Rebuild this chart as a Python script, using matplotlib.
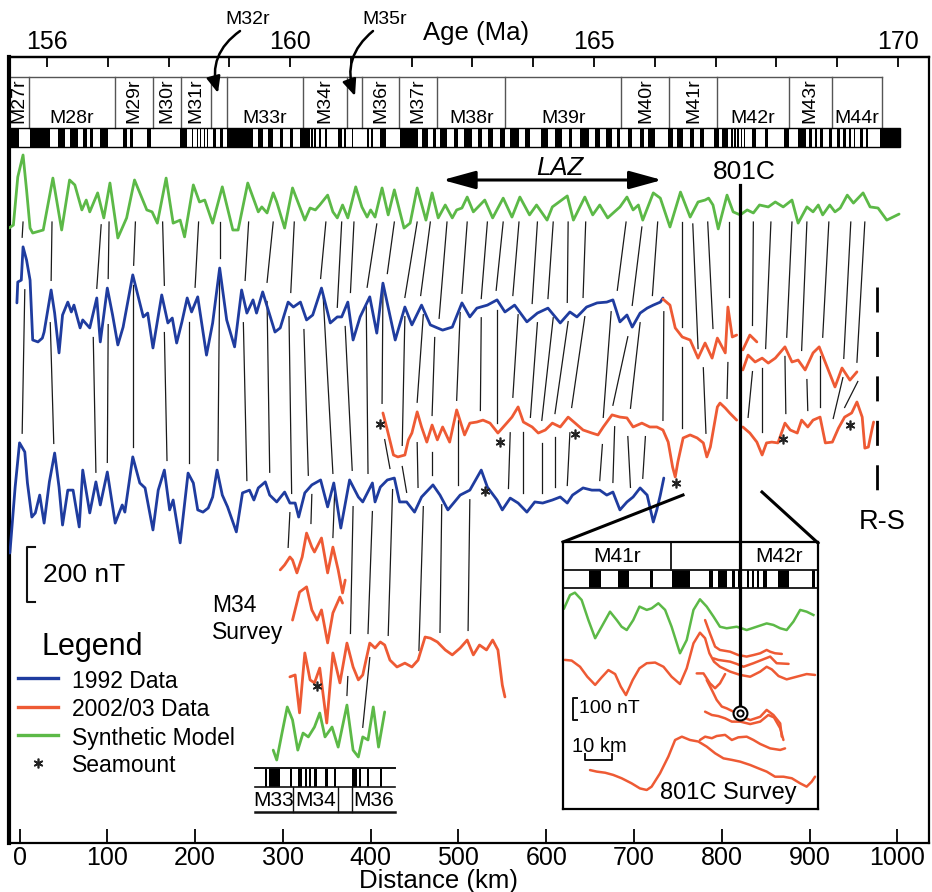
import numpy as np
import matplotlib
matplotlib.use("Agg")
import matplotlib.pyplot as plt
from matplotlib import font_manager
from matplotlib.patches import Rectangle, FancyArrowPatch

plt.rcParams['font.family'] = ['Liberation Sans', 'DejaVu Sans']

BLUE = '#1f3c9f'
RED = '#ee5a34'
GREEN = '#5cb947'
INK = '#111111'

# --- magnetic profiles: (distance km, anomaly nT) ---
synthetic = [(-12,-84),(-7,-73),(-2,102),(4,182),(8,55),(12,-84),(15,-102),(27,-91),(38,98),(48,-91),
             (57,91),(63,73),(71,-18),(76,18),(80,-25),(89,44),(96,-47),(103,80),(112,-120),(122,-47),
             (131,91),(145,-18),(151,-25),(157,-66),(167,98),(175,-66),(183,-55),(188,-116),(198,73),(205,11),
             (211,18),(220,-66),(231,66),(243,-91),(249,-91),(260,80),(272,-25),(276,-7),(282,-29),(289,44),
             (293,11),(302,-84),(311,62),(325,-55),(331,-11),(337,-18),(342,0),(351,36),(357,-25),(362,-47),
             (368,0),(374,-47),(383,66),(390,-7),(396,-44),(400,-18),(405,-44),(413,62),(420,-36),(427,55),
             (438,-84),(445,-66),(453,62),(463,-55),(470,44),(477,-47),(485,0),(493,-47),(498,-18),(504,-11),
             (510,29),(517,-25),(530,18),(539,-47),(551,25),(561,-44),(570,29),(581,-36),(589,0),(601,-55),
             (607,-7),(624,33),(631,-55),(644,29),(653,-36),(661,0),(670,-47),(684,-7),(692,29),(699,-18),
             (705,0),(710,-55),(722,44),(730,25),(741,-80),(753,47),(764,-44),(773,11),(781,18),(785,25),
             (790,0),(796,-87),(806,36),(813,-25),(821,-36),(829,-18),(836,-29),(843,0),(853,-7),(861,11),
             (870,-7),(880,18),(887,-66),(897,-7),(904,-25),(910,0),(915,-36),(923,0),(929,-25),(935,-11),
             (943,36),(950,7),(961,44),(969,-7),(978,-11),(988,-55),(995,-44),(1002,-33)]

upper_1992 = [(-3,44),(-2,120),(2,127),(4,248),(8,200),(12,127),(15,-91),(21,-98),(26,-84),(28,-62),
              (36,91),(40,7),(45,-138),(49,0),(55,47),(59,11),(62,36),(65,0),(69,-47),(72,-18),
              (80,-47),(88,62),(92,-98),(100,98),(106,0),(112,-109),(118,-44),(129,146),(141,-7),(146,7),
              (152,-120),(162,73),(169,-29),(174,-11),(179,-102),(185,-25),(191,62),(196,11),(203,66),(213,-146),
              (220,-29),(228,171),(236,-18),(245,-116),(253,91),(259,7),(266,55),(270,7),(277,84),(291,-62),
              (297,-47),(306,47),(312,29),(320,47),(327,-18),(334,0),(344,98),(354,-29),(362,-7),(367,-7),
              (374,47),(380,-91),(388,-7),(399,66),(407,-66),(414,116),(428,-91),(439,29),(447,-36),(458,36),
              (468,-36),(476,-47),(482,-55),(493,-44),(504,44),(513,-7),(521,25),(533,36),(544,55),(553,11),
              (564,36),(578,-25),(590,7),(602,25),(616,-29),(627,11),(635,-7),(646,29),(658,44),(669,47),
              (676,55),(684,-25),(692,0),(698,-44),(707,7),(715,25),(722,36),(730,47),(733,62)]
upper_0203 = [(733,58),(741,36),(747,-47),(755,-80),(764,-91),(773,-157),(781,-102),(789,-157),(795,-84),
              (804,-138),(807,29),(812,-80),(817,-73)]
upper_0203_short = [(824,-127),(832,-73),(840,-98)]
upper_0203_east = [(824,-200),(830,-146),(838,-171),(846,-157),(853,-175),(861,-157),(872,-116),(880,-171),
                   (887,-164),(895,-200),(904,-138),(911,-116),(920,-189),(929,-262),(937,-193),(946,-237),(954,-207)]

middle_0203 = [(414,62),(419,0),(426,-91),(431,-98),(439,-91),(443,-36),(447,-11),(453,66),(458,11),(464,-44),
               (470,18),(476,-36),(482,11),(490,-44),(498,73),(507,-18),(513,25),(521,29),(528,36),(536,25),
               (545,-11),(555,25),(561,47),(568,84),(574,29),(584,11),(591,-11),(599,0),(607,25),(616,11),
               (625,47),(633,25),(642,0),(652,-11),(659,-18),(665,11),(675,55),(684,47),(692,44),(699,11),
               (709,25),(718,11),(726,11),(733,0),(739,-44),(744,-135),(747,-171),(750,-116),(756,-29),(764,-18),
               (772,-29),(779,-47),(783,-98),(787,-62),(795,84),(798,98),(804,80),(809,62),(817,36)]
middle_0203_east = [(824,11),(832,-11),(840,-44),(846,-91),(851,-47),(857,-44),(864,-47),(872,25),(878,0),
                    (886,-11),(891,36),(898,11),(904,36),(912,47),(918,-47),(926,-44),(933,7),(940,47),
                    (948,62),(954,102),(960,47),(963,-66),(967,-62),(971,0),(973,29)]

lower_1992 = [(-11,-204),(-5,36),(0,197),(6,164),(9,51),(14,-73),(18,-58),(23,7),(28,-95),(34,55),
              (40,160),(45,36),(49,-102),(55,25),(61,25),(68,-109),(72,98),(80,-58),(87,55),(92,-29),
              (100,91),(109,-95),(117,-29),(120,-55),(129,146),(137,51),(143,33),(152,-120),(158,25),(165,98),
              (171,-47),(175,-11),(183,-167),(192,87),(198,51),(203,-47),(209,-55),(215,-40),(220,0),(225,98),
              (231,7),(237,-36),(247,-127),(254,15),(262,25),(267,-11),(272,33),(280,55),(285,7),(293,-18),
              (302,18),(308,-22),(314,-22),(318,-73),(325,15),(333,44),(343,62),(351,-36),(358,51),(366,-113),
              (376,62),(386,0),(391,-18),(402,51),(405,-18),(411,36),(419,62),(427,69),(433,-18),(441,-18),
              (450,-55),(458,0),(471,44),(479,7),(488,-47),(502,7),(513,25),(526,98),(533,36),(544,-11),
              (550,-47),(559,-4),(568,-22),(578,-55),(587,-18),(596,-22),(607,-11),(616,0),(624,-22),(630,7),
              (642,33),(652,25),(661,25),(669,7),(676,18),(684,-47),(692,-18),(699,0),(707,33),(715,7),
              (722,-91),(726,-47),(730,7),(734,69)]

m34_line_a = [(297,-36),(302,-18),(308,11),(311,0),(316,-47),(322,11),(327,98),(333,47),(336,29),(344,80),
              (351,-47),(357,47),(363,-36),(368,-120),(371,-73)]
m34_line_b = [(311,-55),(319,47),(327,66),(333,-18),(339,-55),(344,-18),(351,-138),(357,-29),(365,29),(368,7)]
m34_line_c = [(308,-25),(314,-18),(319,-156),(325,62),(331,-36),(336,-47),(342,7),(350,-193),(357,62),(365,-47),
              (373,98),(380,11),(386,-36),(391,-18),(399,98),(405,80),(411,102),(416,91),(422,36),(430,11),
              (439,25),(447,11),(454,36),(462,120),(468,116),(476,102),(485,73),(493,55),(502,80),(510,109),
              (517,55),(524,91),(532,73),(539,109),(545,73),(550,-55),(553,-98)]
m34_synthetic = [(289,-55),(293,-91),(299,7),(305,102),(311,55),(317,-55),(323,7),(329,-7),(336,29),(342,80),
                 (348,-7),(356,29),(363,-44),(373,109),(380,-55),(386,-80),(391,-7),(397,-18),(403,102),(409,-44),(416,84)]

# seamounts: (km, profile)
seamounts = [(411, 'mid'), (547, 'mid'), (633, 'mid'), (870, 'mid'), (946, 'mid'),
             (530, 'low'), (748, 'mid'), (339, 'm34c')]

# correlation ties (km on upper profile, km on lower profile)
ties_syn_upper = [(4,3),(37,36),(93,88),(102,101),(132,130),(163,165),(204,200),(228,228),(261,257),(289,282),
                  (313,309),(349,343),(367,362),(381,377),(407,396),(427,419),(453,439),(468,457),(487,478),
                  (510,504),(533,526),(551,543),(569,562),(590,584),(608,602),(625,624),(645,642),(691,681),
                  (709,698),(727,721),(755,755),(767,773),(784,790),(808,808),(836,835),(856,850),(880,874),
                  (897,891),(922,915),(947,939),(963,954)]
ties_upper_lower = [(6,3),(35,39),(84,87),(101,100),(129,129),(165,168),(193,193),(228,226),(255,259),(282,285),
                    (307,310),(324,329),(346,357),(371,379),(395,397),(414,413),(439,436),(460,453),(473,470),
                    (502,498),(526,525),(544,544),(568,562),(590,582),(608,595),(625,610),(644,629),(674,665),
                    (693,676),(707,696),(734,733),(755,755),(779,782),(807,806),(835,830),(846,846),(872,873),
                    (897,898),(912,912),(938,927),(955,940)]
ties_middle_lower = [(416,422),(436,441),(453,454),(470,470),(500,500),(559,557),(574,574),(595,595),
                     (610,610),(627,624),(664,661),(678,676),(693,696),(713,710)]
ties_lower_m34 = [(308,306),(333,332),(359,357),(380,377),(402,397),(425,420),(460,455),(481,479),(513,511)]
ties_m34_syn = [(374,373),(399,391)]

# geomagnetic timescale (Ma)
chron_names = ['M27r','M28r','M29r','M30r','M31r','M32r','M33r','M34r','M35r','M36r','M37r',
               'M38r','M39r','M40r','M41r','M42r','M43r','M44r']
chron_bounds_ma = [155.37,155.70,157.12,157.74,158.21,158.70,158.96,160.21,160.94,161.19,161.79,
                   162.42,163.54,165.45,166.24,167.03,168.20,168.91,169.74]
polarity_black_ma = [(155.39,155.54),(155.72,156.05),(156.18,156.30),(156.38,156.51),(156.59,156.66),(156.71,156.76),
                     (156.87,157.00),(157.25,157.32),(157.37,157.42),(157.65,157.71),(158.19,158.30),(158.39,158.41),
                     (158.47,158.49),(158.52,158.54),(158.58,158.60),(158.63,158.65),(158.73,158.78),(158.85,158.90),
                     (158.96,159.39),(159.47,159.56),(159.64,159.72),(159.84,159.88),(160.00,160.05),(160.16,160.33),
                     (160.35,160.37),(160.40,160.43),(160.48,160.51),(160.58,160.61),(160.79,160.86),(160.89,160.92),
                     (161.02,161.04),(161.27,161.30),(161.33,161.37),(161.48,161.58),(161.81,162.11),(162.17,162.27),
                     (162.35,162.40),(162.47,162.58),(162.70,162.77),(162.86,163.00),(163.09,163.16),(163.26,163.33),
                     (163.46,163.54),(163.62,163.77),(163.87,163.95),(164.12,164.25),(164.36,164.48),(164.58,164.64),
                     (164.77,164.91),(165.02,165.10),(165.19,165.30),(165.38,165.43),(165.56,165.63),(165.76,165.83),
                     (165.89,166.01),(166.22,166.30),(166.37,166.47),(166.58,166.65),(166.75,166.81),(166.98,167.05),
                     (167.11,167.21),(167.26,167.28),(167.31,167.33),(167.36,167.38),(167.41,167.43),(167.46,167.48),
                     (167.60,167.67),(167.81,167.87),(168.12,168.20),(168.36,168.48),(168.53,168.59),(168.64,168.67),
                     (168.72,168.77),(168.86,168.92),(169.00,169.05),(169.10,169.14),(169.19,169.22),(169.27,169.30),
                     (169.38,169.42),(169.48,169.50),(169.71,170.04)]
polarity_end_ma = 170.04

# M34 survey block model (km)
m34_black_km = [(280,282),(284,297),(308,310),(317,322),(325,327),(330,332),(336,339),(348,351),(358,360),
                (379,384),(387,389),(396,398),(411,413)]
m34_chron_km = [268, 312, 363, 379, 428]
m34_chron_names = ['M33', 'M34', '', 'M36']

# 801C survey inset: (km along inset, nT)
inset_synthetic = [(0.4,907),(2.6,967),(4.4,978),(6.9,945),(9.4,854),(11.9,772),(14.3,824),(17.4,892),(19.9,854),
                   (21.7,824),(23.6,809),(26.0,854),(28.3,915),(31.0,900),(32.8,907),(35.3,930),(37.8,900),(40.2,824),
                   (43.3,704),(45.8,764),(48.3,900),(50.7,948),(53.2,915),(55.7,870),(58.1,824),(60.6,817),(64.3,824),
                   (68.0,809),(71.7,824),(75.4,839),(77.9,832),(80.4,817),(82.8,809),(85.3,847),(87.8,900),(90.2,892),(92.7,877)]
inset_lines = [
    [(0.7,674),(3.2,671),(6.3,643),(9.0,598),(11.9,561),(14.3,595),(16.8,628),(19.3,610),(21.4,553),(23.3,515),
     (25.8,583),(28.3,636),(31.0,659),(34.1,662),(37.2,643),(40.2,598),(43.3,565),(45.8,636),(48.3,749),(50.7,797),
     (52.6,772),(54.2,704),(55.9,666),(58.1,643),(61.9,621),(65.6,606),(69.3,598),(73.0,621),(75.4,643),(77.3,631),
     (79.8,601),(82.8,586),(86.5,598),(90.2,610),(93.3,606)],
    [(52.6,854),(54.4,794),(56.3,734),(58.1,719),(61.9,711),(64.9,696),(68.0,689),(70.5,696),(73.0,704),(75.4,719),
     (76.7,711),(78.5,704),(81.0,701)],
    [(55.7,681),(57.5,674),(61.9,666),(64.3,656),(66.8,643),(70.5,659),(74.2,677),(76.7,689),(79.1,659),(83.5,656)],
    [(49.5,613),(52.0,613),(54.4,568),(56.3,546),(58.1,568),(60.0,610)],
    [(53.2,583),(55.1,538),(56.9,493),(58.8,463),(60.6,455),(63.1,440),(66.2,417),(69.3,402),(73.0,417),(75.4,448),
     (77.9,425),(80.4,387),(81.0,327)],
    [(52.6,440),(55.1,425),(57.5,420),(60.0,410),(62.5,395),(65.6,395),(69.3,384),(73.0,395),(76.0,425),(78.1,414),
     (80.4,365),(81.6,312)],
    [(50.7,312),(52.6,327),(55.1,320),(56.9,330),(60.0,335),(62.5,312),(64.9,324),(68.0,327),(70.5,312),(73.0,294),
     (76.7,274),(80.4,267),(82.2,274)],
    [(10.0,176),(12.5,169),(15.6,164),(18.6,154),(21.7,139),(25.4,116),(28.5,93),(31.0,86),(32.8,101),(35.9,161),
     (39.0,237),(41.5,312),(44.0,327),(47.0,312),(50.1,305),(53.2,282),(56.3,252),(59.4,229),(62.5,222),(65.6,214),
     (69.3,199),(72.3,184),(75.4,169),(78.5,146),(81.6,146),(84.7,139),(87.8,116),(90.2,101),(92.1,124),(93.3,146)],
]
inset_black_km = [(9.6,14.1),(20.4,24.4),(32.2,33.3),(40.4,47.0),(54.1,55.6),(57.4,60.7),(62.6,63.7),(64.8,66.3),
                  (68.1,68.9),(69.9,70.7),(71.9,72.6),(74.1,75.6),(79.6,83.7),(92.2,93.3)]
inset_chron_km = [0, 40.0, 65.6, 94.4]
inset_chron_names = ['M41r', '', 'M42r']
inset_site_km, inset_site_nt = 65.6, 434

SITE_801C_KM = 821
LAZ_KM = (482, 732)
RS_KM = 977


def km_to_ma(km):
    return 156.0 + (np.asarray(km, float) - 31.25) / 69.25


def ma_to_km(ma):
    return 31.25 + (np.asarray(ma, float) - 156.0) * 69.25


def arr(pairs):
    return np.array(pairs, dtype=float)


def stack(*pieces):
    a = np.concatenate([arr(p) for p in pieces])
    return a[np.argsort(a[:, 0], kind='stable')]


def envelope(trace, x, fn, half=6):
    sel = np.abs(trace[:, 0] - x) <= half
    if sel.any():
        return fn(trace[sel, 1])
    return np.interp(x, trace[:, 0], trace[:, 1])


W, H = 932, 892
NT_PER_PX = 3.64


def box(x0, y0, x1, y1):
    return [x0 / W, 1 - y1 / H, (x1 - x0) / W, (y1 - y0) / H]


def ny(py):
    # vertical page position -> stacked nT of the main panel
    return (843 - py) * NT_PER_PX


names = {f.name for f in font_manager.fontManager.ttflist}
NARROW = 'Liberation Sans Narrow' if 'Liberation Sans Narrow' in names else 'Liberation Sans'

fig = plt.figure(figsize=(W / 100, H / 100), dpi=100)
ax = fig.add_axes(box(9, 57, 929, 843))
ax.set_xlim(-12.0, 1036.1)
ax.set_ylim(0, 786 * NT_PER_PX)

OFFSET = {'syn': ny(205), 'up': ny(315), 'mid': ny(430), 'low': ny(497),
          'm34a': ny(560), 'm34b': ny(605), 'm34c': ny(670), 'm34syn': ny(735)}

syn = arr(synthetic)
up_all = stack(upper_1992, upper_0203, upper_0203_short, upper_0203_east)
mid_all = stack(middle_0203, middle_0203_east)
low = arr(lower_1992)
m34a, m34b, m34c, m34s = arr(m34_line_a), arr(m34_line_b), arr(m34_line_c), arr(m34_synthetic)
traces = {'syn': syn, 'up': up_all, 'mid': mid_all, 'low': low, 'm34a': m34a, 'm34c': m34c, 'm34syn': m34s}

LW = 2.0
def draw(pairs, key, color):
    a = arr(pairs)
    ax.plot(a[:, 0], a[:, 1] + OFFSET[key], color=color, lw=LW, solid_joinstyle='round',
            solid_capstyle='round', zorder=3)

draw(synthetic, 'syn', GREEN)
draw(upper_1992, 'up', BLUE)
draw(upper_0203, 'up', RED)
draw(upper_0203_short, 'up', RED)
draw(upper_0203_east, 'up', RED)
draw(middle_0203, 'mid', RED)
draw(middle_0203_east, 'mid', RED)
draw(lower_1992, 'low', BLUE)
draw(m34_line_a, 'm34a', RED)
draw(m34_line_b, 'm34b', RED)
draw(m34_line_c, 'm34c', RED)
draw(m34_synthetic, 'm34syn', GREEN)

# correlation ties
def tie(xt, yt, xb, yb):
    ax.plot([xt, xb], [yt, yb], color='#1a1a1a', lw=0.9, zorder=2)

for xt, xb in ties_syn_upper:
    yt = OFFSET['syn'] + min(-62, envelope(syn, xt, np.min, 4) - 25)
    yb = OFFSET['up'] + envelope(up_all, xb, np.max) + 35
    tie(xt, yt, xb, yb)
for xt, xb in ties_upper_lower:
    key = 'mid' if xb >= 410 else 'low'
    yt = OFFSET['up'] + envelope(up_all, xt, np.min) - 35
    yb = OFFSET[key] + envelope(traces[key], xb, np.max) + 35
    tie(xt, yt, xb, yb)
for xt, xb in ties_middle_lower:
    yt = OFFSET['mid'] + envelope(mid_all, xt, np.min) - 35
    yb = OFFSET['low'] + envelope(low, xb, np.max) + 35
    tie(xt, yt, xb, yb)
for xt, xb in ties_lower_m34:
    key = 'm34a' if xb < 372 else 'm34c'
    yt = OFFSET['low'] + envelope(low, xt, np.min) - 35
    yb = OFFSET[key] + envelope(traces[key], xb, np.max) + 35
    tie(xt, yt, xb, yb)
for xt, xb in ties_m34_syn:
    yt = OFFSET['m34c'] + envelope(m34c, xt, np.min) - 35
    yb = OFFSET['m34syn'] + envelope(m34s, xb, np.max) + 35
    tie(xt, yt, xb, yb)

# seamounts
for km, key in seamounts:
    t = traces[key]
    y = OFFSET[key] + np.interp(km, t[:, 0], t[:, 1]) - 40
    ax.plot(km, y, marker=(6, 2, 0), ms=7, mew=1.2, color='#222222', zorder=4)

# timescale strip
tr = ax.get_xaxis_transform()
LBL_TOP, BAR_TOP, BAR_BOT = (843 - 77) / 786, (843 - 128) / 786, (843 - 147) / 786
kb = ma_to_km(chron_bounds_ma)
ax.plot([kb[0], kb[-1]], [LBL_TOP, LBL_TOP], transform=tr, color='#555555', lw=1.0, zorder=2)
for b in kb[1:]:
    ax.plot([b, b], [BAR_TOP, LBL_TOP], transform=tr, color='#555555', lw=1.0, zorder=2)
vertical = {'M27r', 'M29r', 'M30r', 'M31r', 'M34r', 'M36r', 'M37r', 'M40r', 'M41r', 'M43r'}
hidden = {'M32r', 'M35r'}
lbl_base = (843 - 123) / 786
for name, a, b in zip(chron_names, kb[:-1], kb[1:]):
    if name in hidden:
        continue
    if name in vertical:
        ax.text((a + b) / 2, lbl_base, name, transform=tr, rotation=90, ha='center', va='bottom',
                fontsize=14)
    else:
        ax.text((a + b) / 2, lbl_base, name, transform=tr, ha='center', va='baseline', fontsize=14)
for s, e in polarity_black_ma:
    ks, ke = ma_to_km(s), ma_to_km(e)
    ax.add_patch(Rectangle((ks, BAR_BOT), ke - ks, BAR_TOP - BAR_BOT, transform=tr,
                           facecolor='black', edgecolor='none', zorder=2))
ax.add_patch(Rectangle((kb[0], BAR_BOT), ma_to_km(polarity_end_ma) - kb[0], BAR_TOP - BAR_BOT,
                       transform=tr, facecolor='none', edgecolor='black', lw=1.0, zorder=2))

# M34 survey block model
ax.plot([m34_chron_km[0], m34_chron_km[-1]], [ny(768)] * 2, color=INK, lw=1.4)
ax.plot([m34_chron_km[0], m34_chron_km[-1]], [ny(787)] * 2, color=INK, lw=1.2)
ax.plot([m34_chron_km[0], m34_chron_km[-1]], [ny(812)] * 2, color=INK, lw=1.8)
for s, e in m34_black_km:
    ax.add_patch(Rectangle((s, ny(787)), e - s, ny(768) - ny(787), facecolor='black', edgecolor='none'))
for b in m34_chron_km[1:-1]:
    ax.plot([b, b], [ny(812), ny(787)], color=INK, lw=1.0)
for name, a, b in zip(m34_chron_names, m34_chron_km[:-1], m34_chron_km[1:]):
    ax.text((a + b) / 2, ny(800), name, ha='center', va='center', fontsize=15)

# annotations in the main panel
ax.annotate('', xy=(LAZ_KM[0], ny(180)), xytext=(LAZ_KM[1], ny(180)),
            arrowprops=dict(arrowstyle='<|-|>,head_length=0.8,head_width=0.22', lw=2.2, color='black',
                            mutation_scale=25, shrinkA=0, shrinkB=0))
ax.text(sum(LAZ_KM) / 2 + 9, ny(168), 'LAZ', style='italic', ha='center', va='center', fontsize=18.5)
ax.plot([SITE_801C_KM] * 2, [ny(185), ny(542)], color='black', lw=2.3, zorder=6)
ax.text(SITE_801C_KM + 5, ny(172), '801C', ha='center', va='center', fontsize=19)
ax.plot([RS_KM] * 2, [ny(287), ny(503)], color='black', lw=2.0, ls=(0, (9, 7)))
ax.text(RS_KM + 6, ny(522), 'R-S', ha='center', va='center', fontsize=19.5)
ax.plot([17.6, 8.5, 8.5, 17.6], [ny(547), ny(547), ny(602), ny(602)], color=INK, lw=1.5)
ax.text(26.7, ny(575), '200 nT', ha='left', va='center', fontsize=19)

# axes styling
ax.set_yticks([])
ax.set_xticks(np.arange(0, 1001, 100))
ax.tick_params(axis='x', direction='in', length=10, width=1.3, pad=2, labelsize=18)
for lab in ax.get_xticklabels():
    lab.set_fontfamily(NARROW)
ax.set_xlabel('Distance (km)', fontsize=18.5, fontfamily=NARROW)
ax.xaxis.set_label_coords(0.467, -0.033)
for s in ax.spines.values():
    s.set_linewidth(1.6)
ax.spines['left'].set_linewidth(3.0)

sec = ax.secondary_xaxis('top', functions=(km_to_ma, ma_to_km))
sec.set_xticks(np.arange(156, 171))
sec.set_xticklabels([str(v) if v in (156, 160, 165, 170) else '' for v in range(156, 171)])
sec.tick_params(direction='in', length=7, width=1.3, pad=2, labelsize=18)
sec.spines['top'].set_linewidth(1.6)

# 801C survey inset
ins = fig.add_axes(box(563, 542, 818, 809))
ins.set_xlim(0, 94.4)
ins.set_ylim(0, 1207)
ins.set_xticks([])
ins.set_yticks([])
for s in ins.spines.values():
    s.set_linewidth(1.6)
ins.axhline(1080, color=INK, lw=1.3)
ins.axhline(999, color=INK, lw=1.3)
for s, e in inset_black_km:
    ins.add_patch(Rectangle((s, 999), e - s, 81, facecolor='black', edgecolor='none'))
ins.plot([inset_chron_km[1]] * 2, [1080, 1207], color=INK, lw=1.3)
for name, a, b in zip(inset_chron_names, inset_chron_km[:-1], inset_chron_km[1:]):
    if name:
        ins.text((a + b) / 2, 1143, name, ha='center', va='center', fontsize=15)
g = arr(inset_synthetic)
ins.plot(g[:, 0], g[:, 1], color=GREEN, lw=1.8, solid_joinstyle='round')
for line in inset_lines:
    a = arr(line)
    ins.plot(a[:, 0], a[:, 1], color=RED, lw=1.8, solid_joinstyle='round', solid_capstyle='round')
ins.plot([inset_site_km] * 2, [1207, inset_site_nt], color='black', lw=2.3, zorder=5)
ins.plot(inset_site_km, inset_site_nt, 'o', ms=10, mfc='white', mec='black', mew=1.5, zorder=6)
ins.plot(inset_site_km, inset_site_nt, 'o', ms=4.5, mfc='white', mec='black', mew=1.4, zorder=7)
ins.plot([5.2, 3.7, 3.7, 5.2], [502, 502, 402, 402], color=INK, lw=1.4)
ins.text(5.9, 455, '100 nT', ha='left', va='center', fontsize=14)
ins.plot([8.1, 8.1, 18.1, 18.1], [247, 221, 221, 247], color=INK, lw=1.4)
ins.text(13.3, 282, '10 km', ha='center', va='center', fontsize=14.5)
ins.text(61.1, 72, '801C Survey', ha='center', va='center', fontsize=17)

# page-level annotation layer
ov = fig.add_axes([0, 0, 1, 1])
ov.set_xlim(0, W)
ov.set_ylim(H, 0)
ov.axis('off')
ov.patch.set_alpha(0)
ov.text(476, 33, 'Age (Ma)', ha='center', va='center', fontsize=18.5)
for lbl, x_txt, start, end in [('M32r', 248, (240, 31), (218, 93)), ('M35r', 385, (373, 31), (355, 96))]:
    ov.text(x_txt, 20, lbl, ha='center', va='center', fontsize=14)
    ov.add_patch(FancyArrowPatch(start, end, connectionstyle='arc3,rad=0.35',
                                 arrowstyle='-|>,head_length=0.7,head_width=0.3', mutation_scale=14,
                                 lw=1.8, color='black', shrinkA=0, shrinkB=0))
ov.plot([563, 683], [542, 495], color='black', lw=2.2)
ov.plot([762, 818], [492, 543], color='black', lw=2.2)
ov.text(212, 605, 'M34', ha='left', va='center', fontsize=16.5)
ov.text(212, 632, 'Survey', ha='left', va='center', fontsize=16.5)
ov.text(42, 647, 'Legend', ha='left', va='center', fontsize=22)
for y, c, txt in [(678, BLUE, '1992 Data'), (707, RED, '2002/03 Data'), (735, GREEN, 'Synthetic Model')]:
    ov.plot([18, 58], [y, y], color=c, lw=2.4)
    ov.text(72, y + 3, txt, ha='left', va='center', fontsize=16.5)
ov.plot(38, 763, marker=(6, 2, 0), ms=7, mew=1.2, color='#222222')
ov.text(72, 765, 'Seamount', ha='left', va='center', fontsize=16.5)

fig.savefig('out.png', dpi=100, facecolor='white')
